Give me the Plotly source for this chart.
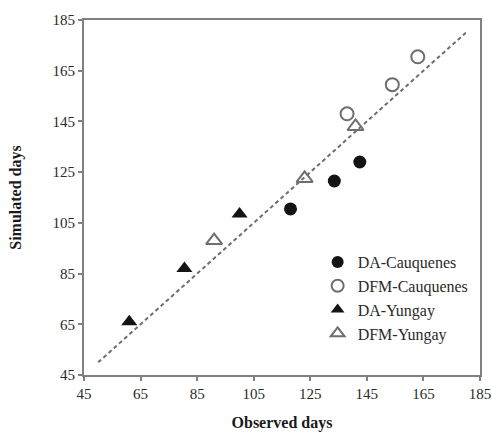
import plotly.graph_objects as go

# Data (observed days, simulated days)
da_cau_obs = [118, 133.5, 142.5]
da_cau_sim = [110.5, 121.5, 129]
dfm_cau_obs = [138, 154, 163]
dfm_cau_sim = [148, 159.5, 170.5]
da_yun_obs = [61, 80.5, 100]
da_yun_sim = [66, 87, 108.5]
dfm_yun_obs = [91, 123, 141]
dfm_yun_sim = [98, 122.5, 143]
line_x = [50, 180]
line_y = [50, 180]
tick_vals = [45, 65, 85, 105, 125, 145, 165, 185]

FONT = "Liberation Serif"
BLACK = "#141414"
GRAY = "#6e6e6e"
AXIS = "#808080"

fig = go.Figure()
fig.add_trace(go.Scatter(x=line_x, y=line_y, mode="lines",
                         line=dict(color=GRAY, width=2, dash="4px,3px"),
                         showlegend=False, hoverinfo="skip"))
fig.add_trace(go.Scatter(x=da_cau_obs, y=da_cau_sim, mode="markers", name="DA-Cauquenes",
                         marker=dict(symbol="circle", size=13, color=BLACK)))
fig.add_trace(go.Scatter(x=dfm_cau_obs, y=dfm_cau_sim, mode="markers", name="DFM-Cauquenes",
                         marker=dict(symbol="circle-open", size=13, color=GRAY, line=dict(width=2))))
fig.add_trace(go.Scatter(x=da_yun_obs, y=da_yun_sim, mode="markers", name="DA-Yungay",
                         marker=dict(symbol="triangle-up", size=14, color=BLACK)))
fig.add_trace(go.Scatter(x=dfm_yun_obs, y=dfm_yun_sim, mode="markers", name="DFM-Yungay",
                         marker=dict(symbol="triangle-up-open", size=14, color=GRAY, line=dict(width=2))))

axis_common = dict(range=[45, 185], tickvals=tick_vals, ticktext=[str(v) for v in tick_vals],
                   showgrid=False, zeroline=False, showline=True, linecolor=AXIS, linewidth=2,
                   mirror=True, ticks="outside", ticklen=4, tickwidth=2, tickcolor=AXIS,
                   tickfont=dict(family=FONT, size=15, color="#2a2a2a"))

fig.update_xaxes(**axis_common,
                 title=dict(text="<b>Observed days</b>", standoff=16,
                            font=dict(family=FONT, size=16, color="#1a1a1a")))
fig.update_yaxes(**axis_common,
                 title=dict(text="<b>Simulated days</b>", standoff=27,
                            font=dict(family=FONT, size=16, color="#1a1a1a")))

fig.update_layout(
    width=492, height=432,
    margin=dict(l=84, r=12, t=20, b=57, autoexpand=False),
    paper_bgcolor="white", plot_bgcolor="white",
    font=dict(family=FONT, size=15, color="#2a2a2a"),
    legend=dict(x=0.59, y=0.366, xanchor="left", yanchor="top",
                bgcolor="rgba(0,0,0,0)", borderwidth=0,
                font=dict(family=FONT, size=16, color="#2a2a2a"),
                itemsizing="constant", tracegroupgap=0),
)

fig.write_html("out.html", config={"displayModeBar": False},
               post_script="document.body.style.margin='0';document.body.style.padding='0';")
